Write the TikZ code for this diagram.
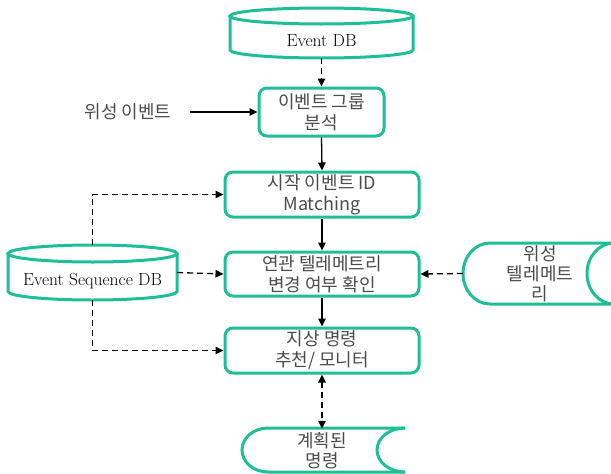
\documentclass[tikz,border=0pt]{standalone}
\usepackage{fontspec}
\usepackage{tikz}
\usetikzlibrary{arrows.meta}
\newfontfamily\kr{Noto Sans CJK KR}
\definecolor{mygreen}{RGB}{30,190,150}
\definecolor{mygray}{RGB}{75,75,75}

\begin{document}
\begin{tikzpicture}
	[x=1pt,y=1pt,
	 outline/.style={draw=mygreen,line width=3pt},
	 box/.style={outline,rounded corners=8pt,minimum width=194pt,minimum height=45pt,inner sep=0pt,align=center,text=mygray,font=\kr\fontsize{18}{21}\selectfont},
	 dbtext/.style={inner sep=0pt,text height=26pt,text depth=0pt,font=\fontsize{17.5}{20}\selectfont},
	 shapetext/.style={inner sep=0pt,align=center,text=mygray,font=\kr\fontsize{18}{20}\selectfont},
	 flow/.style={line width=1.3pt,-{Triangle[length=8pt,width=7.5pt]}},
	 dflow/.style={flow,dash pattern=on 6pt off 4pt}]
	\useasboundingbox (0,0) rectangle (611,-474);
	\clip (0,0) rectangle (611,-474);
	
	% databases
	\node[dbtext,minimum width=183pt,minimum height=50pt] (evdb) at (321.5,-33) {Event DB};
	\draw[outline] (321.5,-16) ellipse [x radius=91.5,y radius=8];
	\draw[outline] (230,-16) -- (230,-50) arc[start angle=180,end angle=360,x radius=91.5,y radius=8] -- (413,-16);
	
	\node[dbtext,minimum width=169pt,minimum height=55pt] (seqdb) at (92.5,-272.5) {Event Sequence DB};
	\draw[outline] (92.5,-253.5) ellipse [x radius=84.5,y radius=8.5];
	\draw[outline] (8,-253.5) -- (8,-291.5) arc[start angle=180,end angle=360,x radius=84.5,y radius=8.5] -- (177,-253.5);
	
	% process boxes
	\node[box,minimum width=125pt,minimum height=48pt] (grp) at (321.5,-112) {이벤트 그룹\\분석};
	\node[box] (match) at (322,-194.5) {시작 이벤트 ID\\Matching};
	\node[box,minimum height=44pt] (telchk) at (322,-274) {연관 텔레메트리\\변경 여부 확인};
	\node[box] (cmd) at (322,-350.5) {지상 명령\\추천/ 모니터};
	
	% stored data
	\node[shapetext,minimum width=154pt,minimum height=61pt] (telem) at (540,-273.5) {위성\\텔레메트\\리};
	\draw[outline] (640,-243) -- (490,-243) arc[start angle=90,end angle=270,x radius=27,y radius=30.5] -- (640,-304);
	\draw[outline] (614,-243) arc[start angle=90,end angle=270,x radius=27,y radius=30.5];
	
	\node[shapetext,minimum width=160pt,minimum height=44pt] (plan) at (322,-451) {계획된\\명령};
	\draw[outline] (405,-428) -- (268,-428) arc[start angle=90,end angle=270,x radius=26,y radius=22] -- (405,-472);
	\draw[outline] (405,-428) arc[start angle=90,end angle=270,x radius=28,y radius=22];
	
	\node[shapetext] (satev) at (128,-112) {위성 이벤트};
	
	% connectors
	\draw[flow] ([xshift=18pt]satev.east) -- (grp.west);
	\draw[dflow] (evdb.south) -- (grp.north);
	\foreach \a/\b in {grp/match,match/telchk,telchk/cmd}
	\draw[flow] (\a.south) -- (\b.north);
	\draw[dflow] (seqdb.north) |- (match.west);
	\draw[dflow] (seqdb.east) -- (telchk.west);
	\draw[dflow] (seqdb.south) |- (cmd.west);
	\draw[dflow] (telem.west) -- (telchk.east);
	\draw[dflow,{Triangle[length=8pt,width=7.5pt]}-{Triangle[length=8pt,width=7.5pt]}] (cmd.south) -- (plan.north);
\end{tikzpicture}
\end{document}
